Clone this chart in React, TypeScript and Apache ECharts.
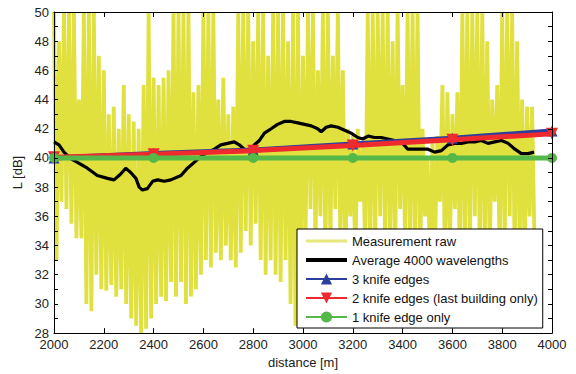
import React, { useEffect, useRef } from "react";
import * as echarts from "echarts";

const FONT = "'Liberation Sans', Arial, Helvetica, sans-serif";

const rawStartDistance = 2000;
const rawStepDistance = 10;
const rawLevel = [
  50, 33, 48, 37, 50, 36.5, 50, 35.5, 50, 34.5, 44, 34.5, 50, 30, 50, 29.5, 50, 32, 47, 31,
  46, 30.9, 43, 31.3, 43.5, 30.5, 42, 31, 45, 30, 43, 29, 42.5, 28.5, 42, 28, 45, 28.3, 50, 29,
  45.5, 30, 45, 30.5, 45.5, 30.2, 46, 31.5, 50, 30.5, 50, 31.5, 50, 30, 50, 30.5, 44.5, 31, 45, 32,
  50, 33, 50, 32.5, 50, 33.5, 44, 33, 45.5, 34, 43, 33, 43.5, 32.5, 50, 33.5, 50, 35, 50, 34,
  48, 35.5, 50, 33, 50, 32, 47, 33, 50, 32, 50, 31.5, 50, 33, 48, 30, 50, 28.5, 50, 31,
  47, 34, 50, 36.5, 50, 34, 46, 36, 50, 33, 50, 34, 47, 36.5, 50, 34, 46, 33, 42, 36,
  41.5, 33, 42, 37, 41, 33.5, 50, 33, 50, 34, 50, 36, 50, 33, 50, 34, 48, 33, 50, 36.5,
  45, 34, 50, 33, 50, 34, 50, 33, 42, 36, 40, 33, 41, 34, 41.5, 37, 45, 33, 44.5, 34,
  43, 36.5, 44.5, 33, 50, 34, 50, 33, 50, 36, 50, 33, 50, 34, 48, 33, 44, 37, 45, 33,
  50, 34, 50, 36, 50, 33, 48, 34, 44, 33, 43.5, 36, 43.5, 34,
];

// Average over 4000 wavelengths
const avgDistance = [
  2000, 2020, 2040, 2067, 2094, 2134, 2174, 2215, 2241, 2268, 2288, 2308, 2329, 2342, 2355, 2375,
  2396, 2416, 2443, 2469, 2510, 2536, 2563, 2590, 2617, 2644, 2670, 2697, 2724, 2744, 2764, 2784,
  2805, 2825, 2845, 2872, 2898, 2925, 2952, 2979, 3006, 3033, 3059, 3073, 3093, 3113, 3140, 3167,
  3193, 3220, 3240, 3261, 3287, 3314, 3341, 3368, 3395, 3421, 3448, 3475, 3502, 3529, 3556, 3582,
  3609, 3636, 3663, 3690, 3716, 3743, 3770, 3797, 3824, 3851, 3877, 3904, 3928,
];
const avgLevel = [
  41.1, 40.9, 40.4, 39.95, 39.7, 39.3, 38.8, 38.6, 38.5, 38.9, 39.3, 39.0, 38.6, 38.0, 37.8, 37.9,
  38.4, 38.5, 38.4, 38.5, 38.8, 39.3, 39.7, 40.1, 40.4, 40.6, 40.9, 41.0, 41.1, 40.9, 40.6, 40.5,
  40.9, 41.2, 41.7, 42.0, 42.3, 42.5, 42.5, 42.4, 42.3, 42.2, 42.0, 41.8, 42.1, 42.2, 42.1, 41.9,
  41.7, 41.4, 41.3, 41.5, 41.4, 41.4, 41.3, 41.2, 41.1, 40.6, 40.6, 40.6, 40.6, 40.4, 40.5, 40.9,
  41.0, 41.0, 41.1, 41.1, 41.2, 41.0, 41.1, 41.2, 41.0, 40.6, 40.3, 40.3, 40.4,
];

// Model predictions
const modelDistance = [2000, 2400, 2800, 3200, 3600, 4000];
const threeKnife = [40.0, 40.3, 40.55, 40.95, 41.35, 41.85];
const twoKnife = [40.05, 40.25, 40.5, 40.85, 41.25, 41.65];
const oneKnife = [40, 40, 40, 40, 40, 40];

const xTicks = { min: 2000, max: 4000, interval: 200 };
const yTicks = { min: 28, max: 50, interval: 1 };

const SERIES_NAMES = [
  "Measurement raw",
  "Average 4000 wavelengths",
  "3 knife edges",
  "2 knife edges (last building only)",
  "1 knife edge only",
];

const YELLOW = "#e0e03e";
const LEGEND_YELLOW = "#e6e67a";

// legend icons: plain line segments (bounding box 41x14 kept by the outer move-to points)
const thinLineIcon = "path://M0,0M0,5.5L41,5.5L41,8.5L0,8.5ZM41,14";
const thickLineIcon = "path://M0,0M0,5L41,5L41,9L0,9ZM41,14";

function pairs(xs: number[], ys: number[]) {
  return ys.map((y, i) => [xs[i], y]);
}

function buildOption() {
  const rawData = rawLevel.map((v, i) => [rawStartDistance + i * rawStepDistance, v]);
  const axisLine = { show: true, onZero: false, lineStyle: { color: "#000", width: 1 } };
  const labelStyle = { color: "#222", fontSize: 13, fontFamily: FONT };
  return {
    animation: false,
    backgroundColor: "#fff",
    textStyle: { fontFamily: FONT },
    grid: { left: 54, right: 24, top: 12, bottom: 38, containLabel: false },
    legend: {
      orient: "vertical",
      left: 297,
      top: 229,
      z: 20,
      padding: [5, 5, 4, 8],
      itemWidth: 41,
      itemHeight: 14,
      itemGap: 5,
      backgroundColor: "#fff",
      borderColor: "#000",
      borderWidth: 1,
      borderRadius: 0,
      textStyle: { color: "#111", fontSize: 13, fontFamily: FONT, lineHeight: 14 },
      data: [
        { name: SERIES_NAMES[0], icon: thinLineIcon, itemStyle: { color: LEGEND_YELLOW } },
        { name: SERIES_NAMES[1], icon: thickLineIcon },
        { name: SERIES_NAMES[2] },
        { name: SERIES_NAMES[3] },
        { name: SERIES_NAMES[4] },
      ],
    },
    xAxis: [
      {
        type: "value",
        position: "bottom",
        ...xTicks,
        z: 8,
        axisLine,
        axisTick: { show: true, inside: true, length: 5, lineStyle: { color: "#000" } },
        axisLabel: { ...labelStyle, margin: 5, formatter: (v: number) => String(v) },
        splitLine: { show: false },
        name: "distance [m]",
        nameLocation: "middle",
        nameGap: 20,
        nameTextStyle: { ...labelStyle },
      },
      {
        type: "value",
        position: "top",
        ...xTicks,
        z: 8,
        axisLine,
        axisTick: { show: true, inside: true, length: 5, lineStyle: { color: "#000" } },
        axisLabel: { show: false },
        splitLine: { show: false },
      },
    ],
    yAxis: [
      {
        type: "value",
        position: "left",
        ...yTicks,
        z: 8,
        axisLine,
        axisTick: { show: true, inside: true, length: 4, lineStyle: { color: "#000" } },
        axisLabel: {
          ...labelStyle,
          margin: 5,
          formatter: (v: number) => (v % 2 === 0 ? String(v) : ""),
        },
        splitLine: { show: false },
        name: "L [dB]",
        nameLocation: "middle",
        nameGap: 25,
        nameRotate: 90,
        nameTextStyle: { ...labelStyle },
      },
      {
        type: "value",
        position: "right",
        ...yTicks,
        z: 8,
        axisLine,
        axisTick: { show: true, inside: true, length: 4, lineStyle: { color: "#000" } },
        axisLabel: { show: false },
        splitLine: { show: false },
      },
    ],
    series: [
      {
        name: SERIES_NAMES[0],
        type: "line",
        z: 2,
        symbol: "none",
        data: rawData,
        lineStyle: { color: YELLOW, width: 3.8, join: "miter", miterLimit: 2 },
        itemStyle: { color: YELLOW },
      },
      {
        name: SERIES_NAMES[1],
        type: "line",
        z: 3,
        symbol: "none",
        data: pairs(avgDistance, avgLevel),
        lineStyle: { color: "#000", width: 3.2 },
        itemStyle: { color: "#000" },
      },
      {
        name: SERIES_NAMES[2],
        type: "line",
        z: 4,
        symbol: "triangle",
        symbolSize: 11,
        data: pairs(modelDistance, threeKnife),
        lineStyle: { color: "#2b3f9e", width: 5 },
        itemStyle: { color: "#2b3f9e" },
      },
      {
        name: SERIES_NAMES[3],
        type: "line",
        z: 5,
        symbol: "triangle",
        symbolRotate: 180,
        symbolSize: 12,
        data: pairs(modelDistance, twoKnife),
        lineStyle: { color: "#ee2a2e", width: 5 },
        itemStyle: { color: "#ee2a2e" },
      },
      {
        name: SERIES_NAMES[4],
        type: "line",
        z: 6,
        symbol: "circle",
        symbolSize: 10,
        data: pairs(modelDistance, oneKnife),
        lineStyle: { color: "#55b848", width: 5 },
        itemStyle: { color: "#55b848" },
      },
    ],
  };
}

export default function App() {
  const ref = useRef<HTMLDivElement>(null);
  useEffect(() => {
    if (!ref.current) return;
    const chart = echarts.init(ref.current, null, { renderer: "svg" });
    chart.setOption(buildOption() as any);
    return () => chart.dispose();
  }, []);
  return (
    <div
      ref={ref}
      style={{ position: "fixed", left: 0, top: 0, width: 576, height: 374, background: "#fff" }}
    />
  );
}
